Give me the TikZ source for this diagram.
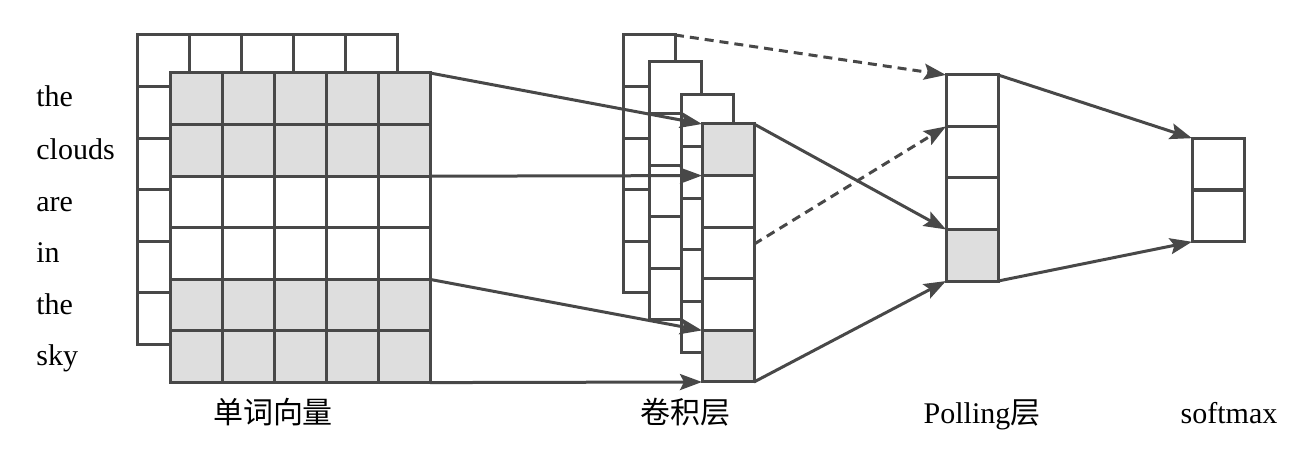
\documentclass[tikz,border=0pt]{standalone}
\usepackage{fontspec}
\setmainfont{Liberation Serif}
\newfontfamily\cjk{Noto Sans CJK SC}
\usetikzlibrary{arrows.meta}
\definecolor{ln}{RGB}{72,72,72}
\definecolor{gr}{RGB}{222,222,222}
\begin{document}
\begin{tikzpicture}[x=0.5pt,y=-0.5pt,
  cell/.style={draw=ln, line width=1.5pt, fill=white, minimum width=26pt, minimum height=25.8pt, inner sep=0pt, outer sep=0pt},
  gcell/.style={cell, fill=gr},
  arr/.style={draw=ln, line width=1.5pt, -{Stealth[length=11pt,width=8pt,inset=2pt]}},
  dsh/.style={arr, dash pattern=on 4.5pt off 3pt},
  word/.style={anchor=base west, inner sep=0pt, font=\fontsize{15}{18}\selectfont},
  lab/.style={anchor=base, inner sep=0pt, font=\fontsize{15}{18}\selectfont}]
\useasboundingbox (0,0) rectangle (1314,453);
% back word matrix
\foreach \r in {1,...,6}
  \foreach \c in {1,...,5}
    \node[cell] (b\r\c) at ({137+(\c-0.5)*52},{35+(\r-0.5)*51.6}) {};
% front word matrix
\foreach \r/\s in {1/gcell,2/gcell,3/cell,4/cell,5/gcell,6/gcell}
  \foreach \c in {1,...,5}
    \node[\s] (f\r\c) at ({170+(\c-0.5)*52},{73+(\r-0.5)*51.6}) {};
% conv back columns
\foreach \k/\x/\y in {1/623/35, 2/649/62, 3/681/95}
  \foreach \r in {1,...,5}
    \node[cell] (k\k\r) at ({\x+26},{\y+(\r-0.5)*51.6}) {};
% conv front column
\foreach \r/\s in {1/gcell,2/cell,3/cell,4/cell,5/gcell}
  \node[\s] (cf\r) at (728,{124+(\r-0.5)*51.6}) {};
% pooling
\foreach \r/\s in {1/cell,2/cell,3/cell,4/gcell}
  \node[\s] (p\r) at (972,{75+(\r-0.5)*51.5}) {};
% softmax
\foreach \r in {1,2}
  \node[cell] (s\r) at (1218,{138+(\r-0.5)*52}) {};
% arrows
\draw[arr] (f15.north east) -- (cf1.north west);
\draw[arr] (f25.south east) -- (cf1.south west);
\draw[arr] (f45.south east) -- (cf4.south west);
\draw[arr] (f65.south east) -- (cf5.south west);
\draw[dsh] (k11.north east) -- (p1.north west);
\draw[arr] (cf1.north east) -- (p4.north west);
\draw[dsh] ([yshift=-8.5pt]cf3.north east) -- (p2.north west);
\draw[arr] (cf5.south east) -- (p4.south west);
\draw[arr] (p1.north east) -- (s1.north west);
\draw[arr] (p4.south east) -- (s2.south west);
% words
\node[word] (w1) at (36,107) {the};
\node[word] (w2) at (36,160) {clouds};
\node[word] (w3) at (36,212) {are};
\node[word] (w4) at (36,263) {in};
\node[word] (w5) at (36,315) {the};
\node[word] (w6) at (36,366) {sky};
% labels
\node[lab] (l1) at (273,424) {\cjk 单词向量};
\node[lab] (l2) at (685,424) {\cjk 卷积层};
\node[lab] (l3) at (982,424) {Polling{\cjk 层}};
\node[lab] (l4) at (1229,424) {softmax};
\end{tikzpicture}
\end{document}
